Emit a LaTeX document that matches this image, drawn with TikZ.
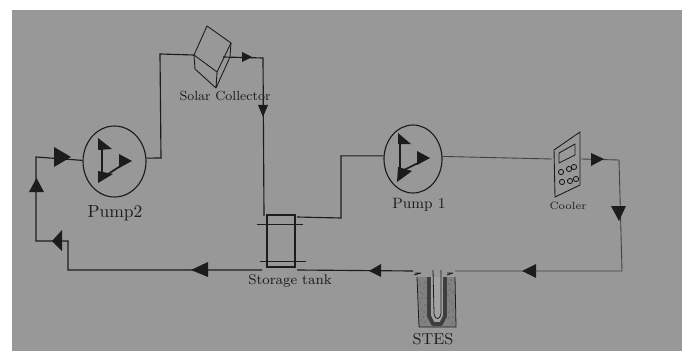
\documentclass[tikz,border=0pt]{standalone}
\usepackage{tikz}
\usetikzlibrary{positioning,shapes.geometric,calc}
\usepackage{xcolor}
\definecolor{paperGray}{RGB}{152,152,152}
\definecolor{penBlack}{RGB}{28,28,28}
\definecolor{penGray}{RGB}{62,66,64}
\tikzset{
    wire/.style={draw=penBlack, line width=0.65pt},
    thinwire/.style={draw=penGray, line width=0.5pt},
    pumpbody/.style={ellipse, draw=penBlack, line width=0.65pt, inner sep=0pt, minimum width=#1},
    tag/.style={text=penBlack, font=\fontsize{#1}{#1}\selectfont, inner sep=0pt},
    sketch/.style={draw=penBlack, line width=0.5pt, line join=round},
}
\begin{document}
\begin{tikzpicture}[x=0.02cm, y=-0.02cm]
    \useasboundingbox (0,0) rectangle (688,351);
    \fill[paperGray] (12,10) rectangle (682,351);

    % equipment
    \node[pumpbody=1.26cm, minimum height=1.42cm] (pumpTwo) at (114.5,161.5) {};
    \node[pumpbody=1.16cm, minimum height=1.36cm] (pumpOne) at (413,159) {};
    \node[draw=penBlack, line width=0.6pt, minimum width=0.56cm, minimum height=1.04cm, inner sep=0pt] (tank) at (281,241) {};
    \draw[sketch] (257,224) -- (303,224) (260,261) -- (306,261);

    % solar collector
    \draw[sketch] (207,26) -- (231,43) -- (217,72) -- (194,55) -- cycle;
    \draw[sketch] (194,55) -- (195,69) -- (216,88) -- (230,57) -- (231,43) (217,72) -- (216,88);
    \coordinate (collectorIn) at (194,55);
    \coordinate (collectorOut) at (223,57);

    % cooler
    \draw[sketch] (554,150) -- (580,132) -- (580,185) -- (555,197) -- cycle;
    \draw[sketch] (559,153) -- (575,144) -- (575,155) -- (559,163) -- cycle;
    \foreach \kx/\ky in {561/172, 569/169, 574/167, 562/182, 570/181, 576/179}
        \draw[sketch] (\kx,\ky) circle (2.6);
    \coordinate (coolerIn) at (552,159);
    \coordinate (coolerOut) at (581,159);

    % stes
    \fill[paperGray!85!black] (417,277) -- (419,327) -- (456,327) -- (455,277) -- cycle;
    \draw[sketch, line width=0.45pt] (417,277) -- (419,327) -- (456,327) -- (455,277);
    \foreach \dx/\dy in {420/285, 423/294, 420/303, 424/312, 421/320, 425/282, 422/298, 425/322, 449/284, 453/292, 450/301, 453/310, 449/318, 452/323, 448/295, 451/280, 424/288, 421/292, 425/305, 422/310, 450/290, 452/304, 449/312, 453/317, 423/317, 426/298}
        \fill[penBlack!80] (\dx,\dy) circle (0.7);
    \fill[paperGray!90!white] (431,277) rectangle (443,322);
    \draw[penBlack!85, line width=2.2pt, line join=round] (429,277) -- (429,316) -- (433,324) -- (441,324) -- (445,316) -- (445,277);
    \draw[sketch, line width=0.45pt] (433,270) -- (434,314) .. controls (435,320) and (440,320) .. (441,314) -- (441,270);
    \draw[sketch] (415,273) -- (421,273) (414,275) -- (421,273) (447,273) -- (453,273) (447,275) -- (453,273);
    \coordinate (stesIn) at (455,271);
    \coordinate (stesOut) at (413,271);

    % connectors
    \coordinate (riseTwo) at (160,54);
    \coordinate (dropTop) at (263,58);
    \coordinate (tankIn) at (264,216);
    \coordinate (tankOut) at (297,217);
    \coordinate (riseOne) at (341,218);
    \coordinate (coolerTurn) at (619,160);
    \coordinate (floorTurn) at (622,271);
    \coordinate (tankRight) at (297,270);
    \coordinate (tankLeft) at (262,270);
    \coordinate (leftStep) at (68,270);
    \coordinate (leftStepTop) at (68,241);
    \coordinate (leftRail) at (36,241);
    \coordinate (leftTop) at (36,157);

    \draw[wire] (pumpTwo.6) -- (161,158) -- (riseTwo) -- (collectorIn);
    \draw[wire] (collectorOut) -- (dropTop) -- (tankIn);
    \draw[wire] (tankOut) -- (riseOne) |- (pumpOne.174);
    \draw[thinwire] (pumpOne.5) -- (coolerIn);
    \draw[thinwire] (coolerOut) -- (coolerTurn) -- (floorTurn) -- (stesIn);
    \draw[wire] (stesOut) -- (tankRight);
    \draw[wire] (tankLeft) -- (leftStep) -- (leftStepTop) -- (leftRail) -- (leftTop) -- (pumpTwo.178);

    % flow arrows
    \foreach \pa/\pb/\pc in {
        {(242,52)}/{(252,57)}/{(242,62)}, {(258,105)}/{(268,105)}/{(263,117)},
        {(591,153)}/{(604,159)}/{(591,166)}, {(611,206)}/{(626,206)}/{(619,221)},
        {(536,264)}/{(522,271)}/{(536,278)}, {(381,264)}/{(369,271)}/{(381,277)},
        {(208,262)}/{(191,270)}/{(208,277)}, {(62,230)}/{(52,241)}/{(62,251)},
        {(29,192)}/{(36.5,178)}/{(44,192)}, {(54,147)}/{(71,157)}/{(54,167)}}
        \fill[penBlack] \pa -- \pb -- \pc -- cycle;

    % pump impellers
    \draw[penBlack, line width=1pt] (102,143) -- (102,178) -- (122,165);
    \fill[penBlack] (98,138) -- (112,149) -- (98,150) -- cycle;
    \fill[penBlack] (119,154) -- (132,161) -- (119,168) -- cycle;
    \fill[penBlack] (98,183) -- (113,174) -- (98,171) -- cycle;
    \draw[penBlack, line width=1pt] (400,142) -- (400,172) -- (420,162);
    \fill[penBlack] (398,133) -- (411,144) -- (398,144) -- cycle;
    \fill[penBlack] (417,151) -- (430,158) -- (417,165) -- cycle;
    \fill[penBlack] (397,182) -- (412,171) -- (398,167) -- cycle;

    % labels
    \node[tag=7.5pt] (collectorTag) at (225,96) {Solar Collector};
    \node[tag=10pt] (pumpTwoTag) at (115,213) {Pump2};
    \node[tag=8.5pt] (pumpOneTag) at (419,205) {Pump 1};
    \node[tag=6pt] (coolerTag) at (568,206) {Cooler};
    \node[tag=8pt] (tankTag) at (290,281) {Storage tank};
    \node[tag=9pt] (stesTag) at (433,339) {STES};
\end{tikzpicture}
\end{document}
